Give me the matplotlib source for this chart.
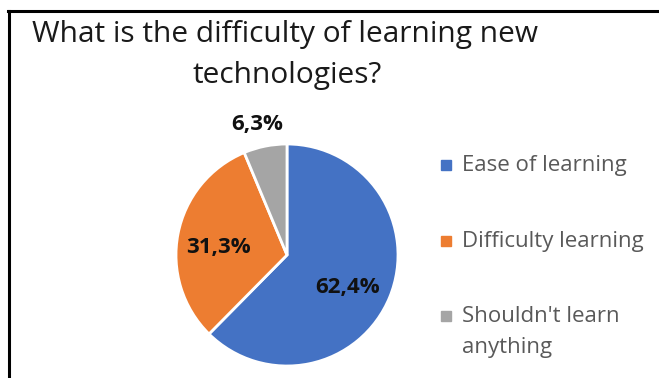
import matplotlib.pyplot as plt
from matplotlib.lines import Line2D

plt.rcParams['font.family'] = ['Open Sans', 'DejaVu Sans']

labels = ['Ease of learning', 'Difficulty learning', "Shouldn't learn\nanything"]
values = [62.4, 31.3, 6.3]
colors = ['#4472c4', '#ed7d31', '#a5a5a5']
label_text = ['62,4%', '31,3%', '6,3%']

W, H = 659, 378
fig = plt.figure(figsize=(W / 100, H / 100), dpi=100)

# frame lines (top and left only visible)
fig.add_artist(Line2D([8 / W, 1], [1 - 10.5 / H, 1 - 10.5 / H], color='black', lw=2.2))
fig.add_artist(Line2D([8.5 / W, 8.5 / W], [0, 1 - 10.5 / H], color='black', lw=2.2))

fig.text(285 / W, 1 - 42 / H, 'What is the difficulty of learning new',
         ha='center', va='baseline', fontsize=21.5, color='#1a1a1a')
fig.text(287 / W, 1 - 83 / H, 'technologies?',
         ha='center', va='baseline', fontsize=21.5, color='#1a1a1a')

r = 111
cx, cy = 287, 255
ax = fig.add_axes([(cx - r) / W, 1 - (cy + r) / H, 2 * r / W, 2 * r / H])
wedges, _ = ax.pie(values, colors=colors, startangle=90, counterclock=False,
                   wedgeprops=dict(edgecolor='white', linewidth=2), radius=1)
ax.set_xlim(-1, 1)
ax.set_ylim(-1, 1)
ax.set_aspect('auto')

# data labels (baseline positions)
pos = [(348, 293), (218, 253), (257, 130)]
for t, (px, py) in zip(label_text, pos):
    ax.text((px - cx) / r, (cy - py) / r, t, ha='center', va='baseline',
            fontsize=16, fontweight='bold', color='#111111', clip_on=False)

# legend
ys = [171, 247, 322]
for lab, col, y in zip(labels, colors, ys):
    fig.patches.append(plt.Rectangle((441 / W, 1 - (y - 1) / H), 10 / W, 10 / H,
                                     transform=fig.transFigure, color=col))
    for i, line in enumerate(lab.split('\n')):
        fig.text(462 / W, 1 - (y + 31 * i) / H, line, ha='left', va='baseline',
                 fontsize=16, color='#595959')

fig.savefig('out.png', dpi=100)
